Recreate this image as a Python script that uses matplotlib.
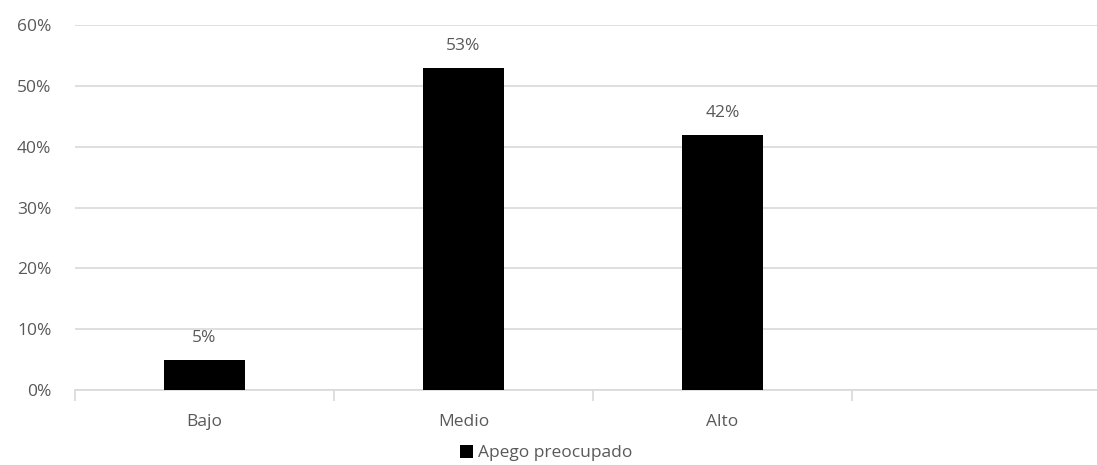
import matplotlib.pyplot as plt
import numpy as np

categories = ['Bajo', 'Medio', 'Alto']
values = [5, 53, 42]
series_name = 'Apego preocupado'

plt.rcParams['font.family'] = ['Open Sans', 'DejaVu Sans']
grey = '#595959'
fs = 12.5

fig = plt.figure(figsize=(10.97, 4.65), dpi=100)
ax = fig.add_axes([75/1097, 1 - 390/465, 1022/1097, 365/465])

x = np.arange(len(categories))
bars = ax.bar(x, values, width=0.31, color='black', label=series_name, zorder=3)

for xi, v in zip(x, values):
    ax.text(xi, v + 2.2, f'{v}%', ha='center', va='bottom', fontsize=fs, color=grey)

ax.set_ylim(0, 60)
ax.set_xlim(-0.5, 3.446)
ax.set_yticks(range(0, 61, 10))
ax.set_yticklabels([f'{t}%' for t in range(0, 61, 10)])
ax.yaxis.grid(True, color='#d9d9d9', linewidth=1.2, zorder=0)
ax.tick_params(axis='y', length=0, labelsize=fs, labelcolor=grey, pad=17)

ax.set_xticks(x)
ax.set_xticklabels(categories)
ax.tick_params(axis='x', length=0, labelsize=fs, labelcolor=grey, pad=17)
ax.set_xticks([-0.5, 0.5, 1.5, 2.5], minor=True)
ax.tick_params(axis='x', which='minor', length=8, color='#d9d9d9', width=1.2)

for s in ['top', 'right', 'left']:
    ax.spines[s].set_visible(False)
ax.spines['bottom'].set_color('#d9d9d9')
ax.spines['bottom'].set_linewidth(1.2)

fig.legend(handles=[bars], labels=[series_name], loc='center', bbox_to_anchor=(546/1097, 1 - 453/465),
           frameon=False, fontsize=fs, labelcolor=grey, handlelength=0.75, handleheight=0.75,
           handletextpad=0.3)

fig.savefig('out.png', dpi=100)
